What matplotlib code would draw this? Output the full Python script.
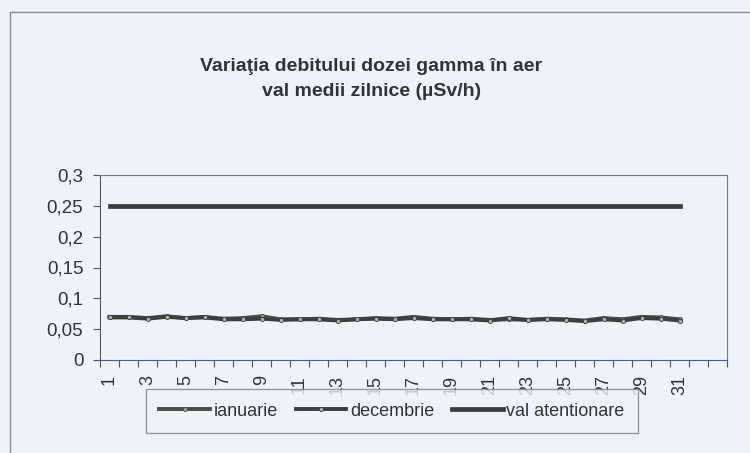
import numpy as np
import matplotlib.pyplot as plt
from matplotlib.patches import Rectangle

plt.rcParams['font.family'] = ['Liberation Sans', 'DejaVu Sans']

# daily mean gamma dose rate (uSv/h)
days = list(range(1, 32))
ianuarie = [0.070, 0.070, 0.068, 0.071, 0.068, 0.070, 0.067, 0.068, 0.071, 0.066,
            0.066, 0.067, 0.065, 0.066, 0.068, 0.067, 0.070, 0.067, 0.066, 0.067,
            0.065, 0.066, 0.065, 0.067, 0.066, 0.064, 0.068, 0.066, 0.070, 0.069,
            0.066]
decembrie = [0.069, 0.069, 0.067, 0.070, 0.068, 0.069, 0.066, 0.066, 0.067, 0.065,
             0.066, 0.066, 0.064, 0.066, 0.067, 0.066, 0.068, 0.066, 0.066, 0.066,
             0.064, 0.068, 0.065, 0.066, 0.065, 0.063, 0.066, 0.064, 0.068, 0.067,
             0.064]
val_atentionare = [0.25] * 31
n_cats = 33  # axis has two empty trailing categories
yticks = [0, 0.05, 0.1, 0.15, 0.2, 0.25, 0.3]
ytick_labels = ['0', '0,05', '0,1', '0,15', '0,2', '0,25', '0,3']

bg = '#eef3fb'
txt = '#333333'
line_col = '#3b403b'

fig = plt.figure(figsize=(7.5, 4.53), dpi=100, facecolor=bg)
ax = fig.add_axes([100 / 750, 1 - 360 / 453, 627 / 750, 185 / 453], facecolor=bg)

ax.plot(days, ianuarie, color='#4a4e4a', lw=2.8, marker='o', ms=3,
        mfc='#9a9e9a', mec='#4a4e4a', mew=0.6, label='ianuarie')
ax.plot(days, decembrie, color=line_col, lw=2.8, marker='o', ms=3,
        mfc='#b0b4b0', mec=line_col, mew=0.6, label='decembrie')
ax.plot(days, val_atentionare, color='#3a3d3a', lw=3.4, label='val atentionare')

ax.set_xlim(0.5, n_cats + 0.5)
ax.set_ylim(0, 0.3)
ax.set_yticks(yticks)
ax.set_yticklabels(ytick_labels)
ax.tick_params(axis='y', labelsize=13.5, colors='#555555', labelcolor=txt,
               length=5, pad=7)

# ticks at category boundaries, labels on odd days
ax.set_xticks(np.arange(0.5, n_cats + 1, 1))
ax.set_xticklabels([])
ax.set_xticks(days[::2], minor=True)
ax.set_xticklabels([str(d) for d in days[::2]], minor=True, rotation=90)
ax.tick_params(axis='x', which='major', length=5, colors='#555555')
ax.tick_params(axis='x', which='minor', length=0, pad=11, labelsize=13,
               labelcolor=txt)

for s in ['top', 'right']:
    ax.spines[s].set_color('#7a7a7a')
ax.spines['left'].set_color('#555555')
ax.spines['bottom'].set_color('#4a5a8a')

fig.text(0.495, 1 - 79 / 453,
         'Variaţia debitului dozei gamma în aer\nval medii zilnice (µSv/h)',
         ha='center', va='center', fontsize=14, fontweight='bold', color=txt,
         linespacing=1.65)

leg = fig.legend(loc='center', bbox_to_anchor=(392 / 750, 1 - 411 / 453), ncol=3,
                 fontsize=13, handlelength=2.8, handletextpad=0.2,
                 columnspacing=1.0, frameon=True, fancybox=False,
                 borderpad=0.75)
leg.get_frame().set_edgecolor('#808080')
leg.get_frame().set_facecolor(bg)
leg.get_frame().set_linewidth(1)
for t in leg.get_texts():
    t.set_color(txt)

# outer chart border
fig.patches.append(Rectangle((10 / 750, -0.1), 1.2, 1.1 - 12 / 453,
                             transform=fig.transFigure, fill=False,
                             edgecolor='#8a8a8a', lw=1))

fig.savefig('out.png', dpi=100, facecolor=bg)
